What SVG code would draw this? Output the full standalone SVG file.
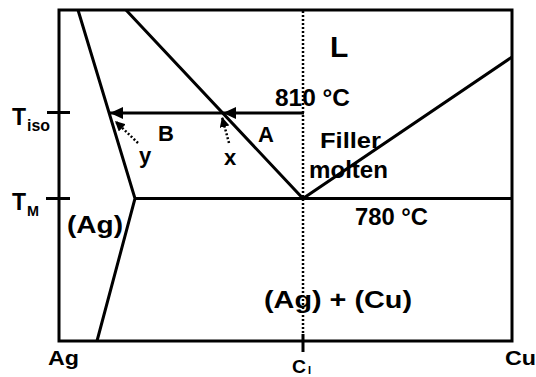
<svg xmlns="http://www.w3.org/2000/svg" width="536" height="377" viewBox="0 0 536 377">
<style>
.ln{fill:none;stroke:#000;stroke-width:3;stroke-linecap:butt;stroke-linejoin:miter}
.dot{fill:none;stroke:#000;stroke-width:2.5;stroke-dasharray:2 2}
.t{font-family:"Liberation Sans",Arial,sans-serif;font-weight:bold;fill:#000}
</style>
<defs>
<marker id="ah" markerUnits="userSpaceOnUse" markerWidth="14" markerHeight="12" refX="13" refY="6" orient="auto">
<path d="M0,0 L13,6 L0,12 Z" fill="#000"/>
</marker>
<marker id="ah2" markerUnits="userSpaceOnUse" markerWidth="11" markerHeight="10" refX="10" refY="5" orient="auto">
<path d="M0,0 L10,5 L0,10 Z" fill="#000"/>
</marker>
</defs>
<rect id="frame" class="ln" x="59" y="10" width="453" height="331"/>
<g id="curves">
<polyline class="ln" points="78,10 135,198.5 97,341"/>
<polyline class="ln" points="126,10 303,198.5 512,57"/>
<line class="ln" x1="135" y1="198.5" x2="512" y2="198.5"/>
<line class="ln" x1="47" y1="112.5" x2="70" y2="112.5"/>
<line class="ln" x1="46" y1="198.5" x2="70" y2="198.5"/>
<line class="dot" x1="303" y1="11" x2="303" y2="334"/>
<line class="ln" x1="303" y1="334" x2="303" y2="352"/>
</g>
<g id="connectors">
<line class="ln" x1="304" y1="113" x2="223" y2="113" marker-end="url(#ah)"/>
<line class="ln" x1="223" y1="113" x2="110" y2="113" marker-end="url(#ah)"/>
<line class="dot" x1="138" y1="143" x2="115" y2="121" marker-end="url(#ah2)"/>
<line class="dot" x1="229" y1="143" x2="222" y2="117" marker-end="url(#ah2)"/>
</g>
<g id="labels">
<text class="t" x="330" y="57" font-size="30">L</text>
<text class="t" x="275" y="106" font-size="23" textLength="75" lengthAdjust="spacingAndGlyphs">810 °C</text>
<text class="t" x="258" y="142" font-size="22">A</text>
<text class="t" x="158" y="141" font-size="22">B</text>
<text class="t" x="139" y="163" font-size="22">y</text>
<text class="t" x="224" y="165" font-size="22">x</text>
<text class="t" x="320" y="148" font-size="22" textLength="61" lengthAdjust="spacingAndGlyphs">Filler</text>
<text class="t" x="309" y="178" font-size="23" textLength="79" lengthAdjust="spacingAndGlyphs">molten</text>
<text class="t" x="355" y="225" font-size="23" textLength="73" lengthAdjust="spacingAndGlyphs">780 °C</text>
<text class="t" x="67" y="233" font-size="23" textLength="56" lengthAdjust="spacingAndGlyphs">(Ag)</text>
<text class="t" x="264" y="308" font-size="24" textLength="148" lengthAdjust="spacingAndGlyphs">(Ag) + (Cu)</text>
<text class="t" x="48" y="365" font-size="20" textLength="31" lengthAdjust="spacingAndGlyphs">Ag</text>
<text class="t" x="505" y="365" font-size="20" textLength="31" lengthAdjust="spacingAndGlyphs">Cu</text>
<text class="t" x="12" y="125" font-size="23">T</text>
<text class="t" x="27" y="131" font-size="16" textLength="23" lengthAdjust="spacingAndGlyphs">iso</text>
<text class="t" x="12" y="210" font-size="23">T</text>
<text class="t" x="27" y="216" font-size="14" textLength="12" lengthAdjust="spacingAndGlyphs">M</text>
<text class="t" x="292" y="373" font-size="18" textLength="14" lengthAdjust="spacingAndGlyphs">C</text>
<text class="t" x="308" y="374" font-size="11">I</text>
</g>
</svg>
